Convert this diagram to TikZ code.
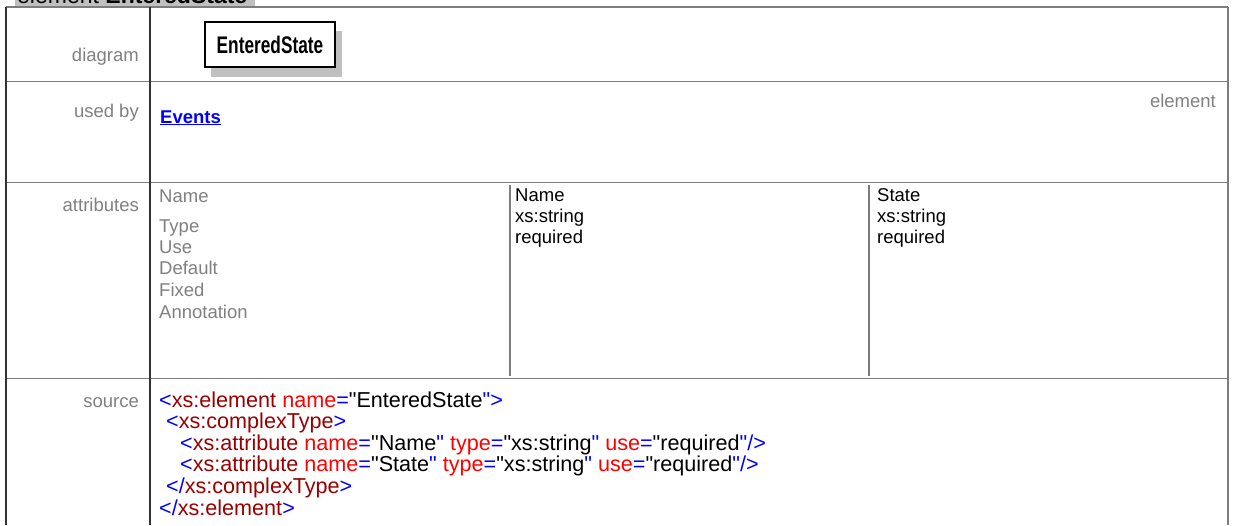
\documentclass[tikz,border=0pt]{standalone}
\usepackage{fontspec}
\setmainfont{Liberation Sans}
\usepackage{tikz}
\usetikzlibrary{positioning}
\definecolor{lblgray}{RGB}{128,128,128}
\definecolor{rulegray}{RGB}{125,125,125}
\definecolor{shadegray}{RGB}{192,192,192}
\definecolor{xmlblue}{RGB}{0,0,255}
\definecolor{xmltag}{RGB}{153,0,0}
\definecolor{xmlatt}{RGB}{255,0,0}
\newcommand{\dq}{\XeTeXglyph\XeTeXglyphindex "quotedbl"\relax}
\newcommand{\xbl}[1]{\textcolor{xmlblue}{#1}}
\newcommand{\xtg}[1]{\textcolor{xmltag}{#1}}
\newcommand{\xat}[1]{\textcolor{xmlatt}{#1}}
\newcommand{\xval}[2]{\xat{#1}\xbl{=}\dq#2\xbl{\dq}}
\tikzstyle{rowlabel} =
[anchor=base east, inner sep=0pt, text=lblgray,
font=\fontsize{18.5}{21}\selectfont]
\tikzstyle{celltext} =
[anchor=base west, inner sep=0pt, font=\fontsize{18.5}{21}\selectfont]
\tikzstyle{attname} =
[celltext, text=lblgray]
\tikzstyle{srcline} =
[anchor=base west, inner sep=0pt, font=\fontsize{21.6}{21.6}\selectfont]
\tikzstyle{elembox} =
[rectangle, minimum width=130pt, minimum height=45.5pt, inner sep=0pt,
draw=black, line width=2pt, fill=white,
font=\fontsize{24}{24}\selectfont\bfseries]
\tikzstyle{elemshadow} =
[rectangle, minimum width=131pt, minimum height=46pt, inner sep=0pt,
fill=shadegray]
\tikzstyle{hrule} = [draw=rulegray, line width=1.5pt]
\tikzstyle{vrule} = [draw=black!80, line width=1.2pt]
\tikzstyle{subrule} = [draw=rulegray, line width=1.5pt]

\begin{document}
\begin{tikzpicture}[x=1pt, y=-1pt]
  \useasboundingbox (0,0) rectangle (1233,525);
  % title bar
  \fill[shadegray] (15,-10) rectangle (255,6.5);
  \node [celltext, font=\fontsize{23}{23}\selectfont] (title) at (17,3.5)
   {element \textbf{EnteredState}};
  %
  % table rules
  \draw [hrule] (6,7) -- (1228,7);
  \draw [hrule] (6,81.5) -- (1228,81.5);
  \draw [hrule] (6,182.5) -- (1228,182.5);
  \draw [hrule] (6,378.5) -- (1228,378.5);
  \draw [vrule] (6,7) -- (6,525);
  \draw [vrule] (150,7) -- (150,525);
  \draw [hrule] (1228,7) -- (1228,525);
  \draw [subrule] (510,185) -- (510,376);
  \draw [subrule] (869,185) -- (869,376);
  %
  % row labels
  \node [rowlabel] (diag) at (139,61) {diagram};
  \node [rowlabel] (usedby) at (139,117) {used by};
  \node [rowlabel] (attrs) at (139,211) {attributes};
  \node [rowlabel] (source) at (139,407) {source};
  %
  % diagram
  \node [elemshadow] (shade) at (276,53.5) {};
  \node [elembox] (elem) at (270,44.5) {\scalebox{0.72}[1]{EnteredState}};
  %
  % used by
  \node [celltext, text=xmlblue, font=\fontsize{18.5}{21}\selectfont\bfseries]
   (events) at (160,123) {\underline{Events}};
  \node [rowlabel] (kind) at (1216,107) {element};
  %
  % attributes
  \node [attname] (hname) at (159,202) {Name};
  \node [attname] (htype) at (159,232) {Type};
  \node [attname] (huse) at (159,253) {Use};
  \node [attname] (hdef) at (159,274.5) {Default};
  \node [attname] (hfix) at (159,296) {Fixed};
  \node [attname] (hann) at (159,318) {Annotation};
  \node [celltext] (aname) at (515,201) {Name};
  \node [celltext] (atype) at (515,222) {xs:string};
  \node [celltext] (ause) at (515,243) {required};
  \node [celltext] (sname) at (877,201) {State};
  \node [celltext] (stype) at (877,222) {xs:string};
  \node [celltext] (suse) at (877,243) {required};
  %
  % source
  \node [srcline] (src1) at (159,407)
   {\xbl{<}\xtg{xs:element} \xval{name}{EnteredState}\xbl{>}};
  \node [srcline] (src2) at (166,428.6)
   {\xbl{<}\xtg{xs:complexType}\xbl{>}};
  \node [srcline] (src3) at (180,450.2)
   {\xbl{<}\xtg{xs:attribute} \xval{name}{Name} \xval{type}{xs:string}
    \xval{use}{required}\xbl{/>}};
  \node [srcline] (src4) at (180,471.8)
   {\xbl{<}\xtg{xs:attribute} \xval{name}{State} \xval{type}{xs:string}
    \xval{use}{required}\xbl{/>}};
  \node [srcline] (src5) at (166,493.4)
   {\xbl{</}\xtg{xs:complexType}\xbl{>}};
  \node [srcline] (src6) at (159,515)
   {\xbl{</}\xtg{xs:element}\xbl{>}};
\end{tikzpicture}
\end{document}
